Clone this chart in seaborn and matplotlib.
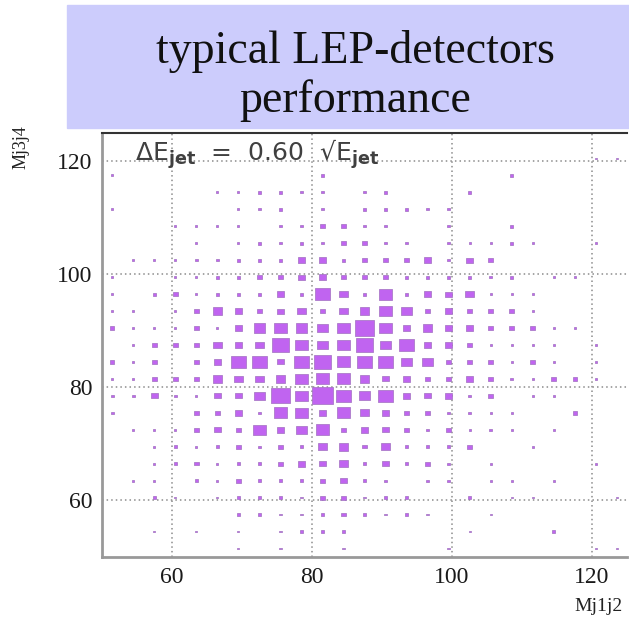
import numpy as np
import pandas as pd
import matplotlib
matplotlib.use("Agg")
import matplotlib.pyplot as plt
from matplotlib.patches import Rectangle
import seaborn as sns

# bin centres of the 2D histogram (3 GeV bins from 50 to 125)
mj1j2_centers = [51.5, 54.5, 57.5, 60.5, 63.5, 66.5, 69.5, 72.5, 75.5, 78.5, 81.5, 84.5, 87.5,
                 90.5, 93.5, 96.5, 99.5, 102.5, 105.5, 108.5, 111.5, 114.5, 117.5, 120.5, 123.5]
# rows from top (123.5) to bottom (51.5)
mj3j4_centers = [123.5, 120.5, 117.5, 114.5, 111.5, 108.5, 105.5, 102.5, 99.5, 96.5, 93.5, 90.5, 87.5,
                 84.5, 81.5, 78.5, 75.5, 72.5, 69.5, 66.5, 63.5, 60.5, 57.5, 54.5, 51.5]

# box size (arbitrary units, biggest box = 20)
bin_content = [
    [0, 0, 0, 0, 0, 0, 0, 0, 0, 0, 0, 0, 0, 0, 0, 0, 0, 0, 0, 0, 0, 0, 0, 0, 0],
    [0, 0, 0, 0, 0, 0, 0, 0, 0, 0, 0, 0, 0, 0, 0, 0, 0, 0, 0, 0, 0, 0, 0, 2, 2],
    [2, 0, 0, 0, 0, 0, 0, 0, 0, 0, 3.5, 0, 0, 0, 0, 0, 0, 0, 0, 3.5, 0, 0, 0, 0, 0],
    [0, 0, 0, 0, 0, 2, 2, 3.5, 3, 2, 2, 0, 2, 3.5, 0, 0, 0, 3.5, 0, 0, 0, 0, 0, 0, 0],
    [2, 0, 0, 0, 0, 0, 2, 2, 3, 0, 2, 0, 3.5, 3, 3.5, 2, 2, 0, 0, 0, 0, 0, 0, 0, 0],
    [0, 0, 0, 2, 2, 2, 2, 0, 2, 2, 5, 5, 3, 3, 0, 0, 3, 0, 0, 3.5, 0, 0, 0, 0, 0],
    [0, 0, 0, 0, 2, 0, 2, 3.5, 2, 3.5, 2, 5, 4.5, 3, 2, 0, 3, 2, 2, 3.5, 2, 0, 0, 2, 0],
    [0, 2, 2, 2, 3, 3, 3.5, 3.5, 3.5, 7, 7, 3.5, 5, 4.5, 4.5, 7, 2, 6, 4.5, 0, 0, 0, 0, 0, 0],
    [2, 0, 0, 2, 2, 3.5, 3.5, 5, 4.5, 6, 7, 4.5, 4.5, 5, 3.5, 3.5, 3.5, 3.5, 3, 3.5, 0, 2, 2, 0, 0],
    [2, 0, 3.5, 4.5, 2, 3.5, 3.5, 3.5, 7, 3.5, 14, 8, 3.5, 13, 3.5, 7, 6, 8, 2, 2, 2, 0, 0, 0, 0],
    [2, 2, 0, 2, 4, 9, 7, 4, 6, 8, 5, 8, 9, 12, 10, 5, 7, 5, 5, 4, 2, 0, 0, 0, 0],
    [4, 2, 2, 2, 4, 2, 7, 11, 13, 11, 10, 12, 18, 12, 6, 9, 6, 7, 5, 5, 5, 2, 2, 0, 0],
    [0, 2, 4, 4, 4, 8, 7, 8, 16, 12, 10, 13, 16, 10, 15, 7, 7, 5, 2, 2, 2, 2, 0, 2, 0],
    [4, 2, 4, 0, 5, 7, 15, 15, 6, 15, 17, 13, 15, 15, 10, 10, 5, 5, 5, 2, 5, 2, 0, 2, 0],
    [2, 2, 4, 4, 5, 9, 8, 8, 9, 12, 13, 13, 9, 6, 7, 4, 4, 7, 5, 3, 2, 5, 4, 2, 0],
    [3, 3, 6, 3, 2, 6, 6, 10, 18, 12, 20, 15, 11, 15, 7, 6, 7, 3, 4, 0, 2, 2, 0, 0, 0],
    [3, 0, 0, 0, 5, 5, 7, 3, 13, 12, 7, 13, 8, 7, 4, 5, 3, 3, 2, 2, 0, 0, 4, 0, 0],
    [0, 2, 2, 2, 5, 6, 5, 12, 7, 10, 13, 5, 7, 6, 5, 2, 5, 2, 3, 2, 0, 2, 0, 0, 0],
    [0, 0, 2, 3, 2, 3, 5, 2, 5, 3, 8, 9, 4, 8, 3, 3, 3, 5, 0, 0, 2, 0, 0, 0, 0],
    [0, 0, 2, 3, 4, 2, 3, 3, 5, 7, 6, 8, 3, 6, 3, 5, 2, 0, 2, 0, 0, 0, 0, 2, 0],
    [0, 2, 2, 0, 3, 2, 5, 3, 3, 3, 5, 6, 3, 2, 0, 2, 2, 0, 2, 2, 0, 2, 0, 0, 0],
    [0, 0, 3, 2, 0, 2, 3, 3, 3, 2, 5, 5, 2, 3, 3, 0, 0, 3, 0, 2, 2, 0, 0, 0, 2],
    [0, 0, 0, 0, 0, 0, 3, 3, 2, 2, 3, 4, 3, 2, 3, 2, 0, 0, 2, 0, 0, 0, 0, 0, 0],
    [0, 0, 2, 0, 2, 0, 2, 0, 2, 3, 3, 3, 0, 0, 0, 0, 0, 2, 0, 0, 0, 3, 0, 0, 0],
    [0, 0, 0, 0, 0, 0, 2, 0, 2, 0, 0, 2, 0, 0, 0, 0, 2, 0, 0, 0, 0, 0, 0, 2, 2],
]

tick_values = [60, 80, 100, 120]
title_text = "typical LEP-detectors\nperformance"
resolution_text = r"$\mathrm{\Delta E}_{\mathbf{jet}}$  =  0.60  √$\mathrm{E}_{\mathbf{jet}}$"

# %%
df = pd.DataFrame(bin_content, index=mj3j4_centers, columns=mj1j2_centers)
df = df.stack().reset_index()
df.columns = ["Mj3j4", "Mj1j2", "content"]
df = df[df["content"] > 0]
df["area"] = df["content"] ** 2   # box side grows linearly with content

sns.set_style("white")
plt.rcParams["mathtext.fontset"] = "dejavusans"

fig = plt.figure(figsize=(6.29, 6.2), dpi=100)
ax = fig.add_axes([0.162, 0.1016, 0.835, 0.684])

box = [(-1, -0.807), (1, -0.807), (1, 0.807), (-1, 0.807), (-1, -0.807)]
sns.scatterplot(data=df, x="Mj1j2", y="Mj3j4", size="area", sizes=(0, 225), size_norm=(0, 400),
                marker=box, color="#c064f0", edgecolor="#a070c0", linewidth=0.5,
                legend=False, ax=ax, zorder=3)

ax.set_xlim(50, 125)
ax.set_ylim(50, 125)
ax.set_xticks(tick_values)
ax.set_yticks(tick_values)
ax.set_xlabel("")
ax.set_ylabel("")
ax.grid(True, linestyle=(0, (1, 2)), color="#8c8c8c", linewidth=1.1)
ax.tick_params(direction="in", length=9, width=1.5, color="#888888", labelsize=17,
               labelcolor="#1a1a1a", pad=7)
for lab in ax.get_xticklabels() + ax.get_yticklabels():
    lab.set_family("Liberation Serif")

ax.spines["left"].set_color("#999999")
ax.spines["left"].set_linewidth(2)
ax.spines["bottom"].set_color("#999999")
ax.spines["bottom"].set_linewidth(2)
ax.spines["top"].set_color("#333333")
ax.spines["top"].set_linewidth(1.5)
ax.spines["right"].set_visible(False)

ax.text(54.7, 120.1, resolution_text, fontsize=18, color="#404040", va="baseline", ha="left",
        family="DejaVu Sans", zorder=4)

# title panel
fig.patches.append(Rectangle((0.1065, 0.7935), 0.8935, 0.1985, transform=fig.transFigure,
                             color="#ccccfc", zorder=0))
fig.text(0.565, 0.877, title_text, ha="center", va="center", fontsize=33, family="Liberation Serif",
         color="#111111", linespacing=1.2)

fig.text(0.033, 0.762, "Mj3j4", rotation=90, ha="center", va="center", fontsize=13,
         family="Liberation Serif", color="#222222")
fig.text(0.952, 0.021, "Mj1j2", ha="center", va="center", fontsize=14,
         family="Liberation Serif", color="#222222")

fig.savefig("out.png", dpi=100)
